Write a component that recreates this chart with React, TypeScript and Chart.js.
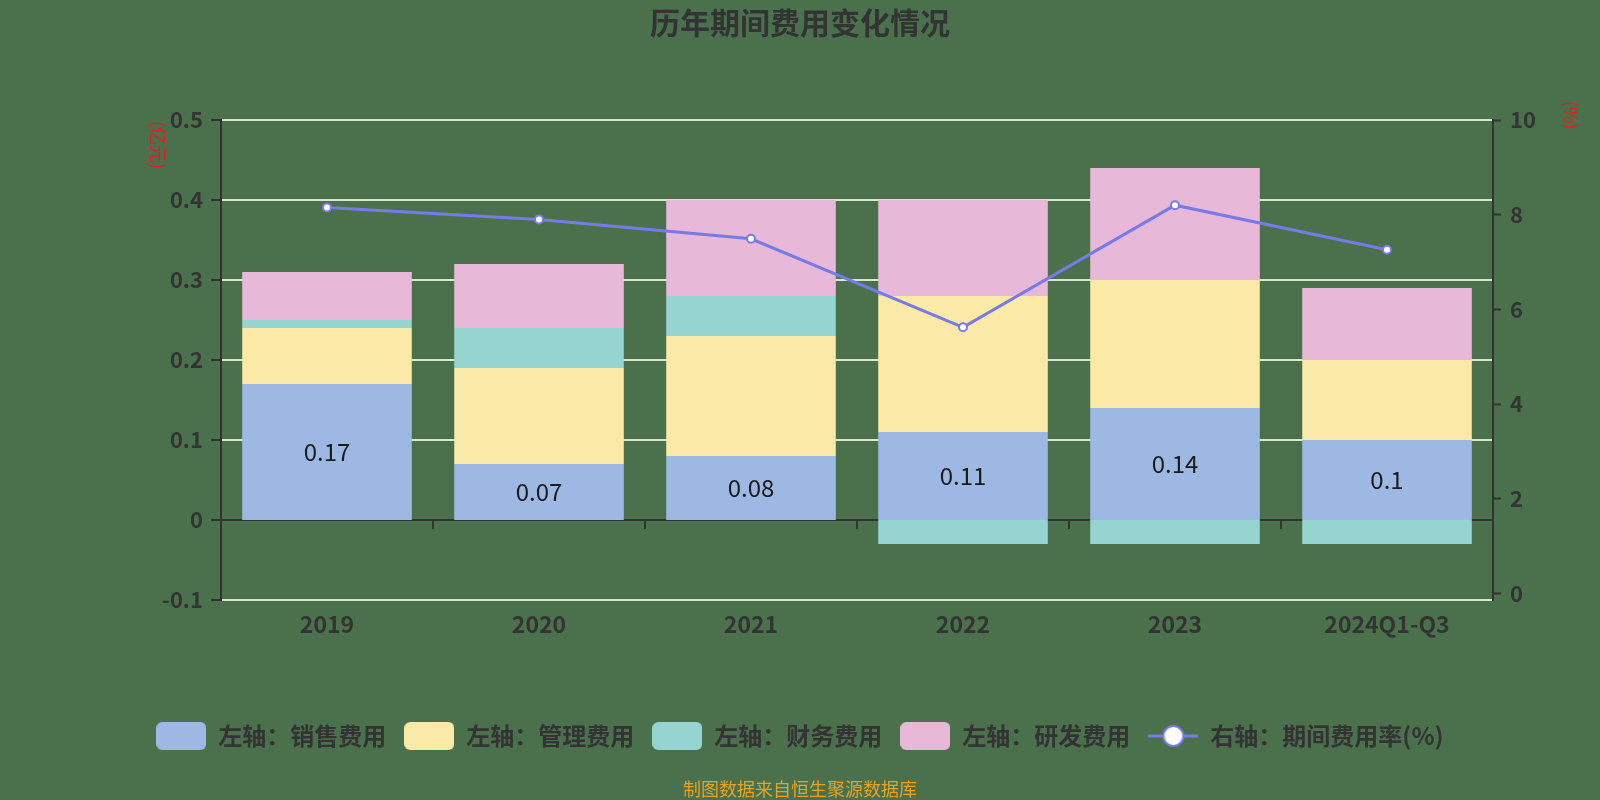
import React, { useEffect, useRef } from 'react';
import { Chart, registerables } from 'chart.js';

Chart.register(...registerables);

const chartTitle = '历年期间费用变化情况';
const footerText = '制图数据来自恒生聚源数据库';
const leftAxisName = '(亿元)';
const rightAxisName = '(%)';

const categories = ['2019', '2020', '2021', '2022', '2023', '2024Q1-Q3'];
const salesExpense = [0.17, 0.07, 0.08, 0.11, 0.14, 0.1];
const adminExpense = [0.07, 0.12, 0.15, 0.17, 0.16, 0.1];
const financeExpense = [0.01, 0.05, 0.05, -0.03, -0.03, -0.03];
const rdExpense = [0.06, 0.08, 0.12, 0.12, 0.14, 0.09];
const expenseRate = [8.15, 7.9, 7.49, 5.62, 8.2, 7.26];

const seriesNames = ['左轴：销售费用', '左轴：管理费用', '左轴：财务费用', '左轴：研发费用', '右轴：期间费用率(%)'];
const seriesColors = ['#9DB8E2', '#FBE9A8', '#96D4D2', '#E8B8D9', '#767BE8'];
const rightTickValues = [0, 2, 4, 6, 8, 10];

const BG = '#4A714C';
const FONT = '"Noto Sans CJK SC", "Noto Sans", sans-serif';

export default function App() {
  const ref = useRef<HTMLCanvasElement>(null);

  useEffect(() => {
    const canvas = ref.current;
    if (!canvas) return;

    const makeBox = (color: string) => {
      const c = document.createElement('canvas');
      c.width = 50;
      c.height = 28;
      const g = c.getContext('2d')!;
      g.fillStyle = color;
      g.beginPath();
      (g as any).roundRect(0, 0, 50, 28, 6);
      g.fill();
      return c;
    };
    const makeLineIcon = (color: string) => {
      const c = document.createElement('canvas');
      c.width = 50;
      c.height = 28;
      const g = c.getContext('2d')!;
      g.strokeStyle = color;
      g.lineWidth = 3;
      g.beginPath();
      g.moveTo(0, 14);
      g.lineTo(50, 14);
      g.stroke();
      g.beginPath();
      g.arc(25, 14, 10, 0, Math.PI * 2);
      g.fillStyle = '#ffffff';
      g.fill();
      g.lineWidth = 2;
      g.stroke();
      return c;
    };
    const icons = [
      makeBox(seriesColors[0]),
      makeBox(seriesColors[1]),
      makeBox(seriesColors[2]),
      makeBox(seriesColors[3]),
      makeLineIcon(seriesColors[4]),
    ];

    const decor = {
      id: 'decor',
      beforeDraw(chart: any) {
        const { ctx, width, height } = chart;
        ctx.save();
        ctx.fillStyle = BG;
        ctx.fillRect(0, 0, width, height);
        ctx.restore();
      },
      beforeDatasetsDraw(chart: any) {
        const { ctx, scales } = chart;
        const x = scales.x;
        const y0 = scales.y.getPixelForValue(0);
        ctx.save();
        ctx.strokeStyle = '#333333';
        ctx.lineWidth = 2;
        const n = categories.length;
        for (let i = 0; i < n - 1; i++) {
          const bx = (x.getPixelForTick(i) + x.getPixelForTick(i + 1)) / 2;
          ctx.beginPath();
          ctx.moveTo(bx, y0);
          ctx.lineTo(bx, y0 + 9);
          ctx.stroke();
        }
        ctx.restore();
      },
      afterDatasetsDraw(chart: any) {
        const { ctx } = chart;
        const meta = chart.getDatasetMeta(1);
        ctx.save();
        ctx.fillStyle = '#1a1a1a';
        ctx.font = `24px ${FONT}`;
        ctx.textAlign = 'center';
        ctx.textBaseline = 'middle';
        meta.data.forEach((el: any, i: number) => {
          const cy = (el.y + el.base) / 2;
          ctx.fillText(String(salesExpense[i]), el.x, cy);
        });
        ctx.restore();
      },
      afterDraw(chart: any) {
        const { ctx } = chart;
        ctx.save();
        ctx.fillStyle = '#333333';
        ctx.font = `bold 30px ${FONT}`;
        ctx.textAlign = 'center';
        ctx.textBaseline = 'middle';
        ctx.fillText(chartTitle, 800, 23);

        ctx.fillStyle = '#E3A428';
        ctx.font = `18px ${FONT}`;
        ctx.fillText(footerText, 800, 789);

        ctx.fillStyle = '#E02020';
        ctx.font = `18px ${FONT}`;
        ctx.translate(158, 145);
        ctx.rotate(Math.PI / 2);
        ctx.fillText(leftAxisName, 0, 0);
        ctx.restore();

        ctx.save();
        ctx.fillStyle = '#E02020';
        ctx.font = `18px ${FONT}`;
        ctx.textAlign = 'center';
        ctx.textBaseline = 'middle';
        ctx.translate(1571, 115);
        ctx.rotate(Math.PI / 2);
        ctx.fillText(rightAxisName, 0, 0);
        ctx.restore();
      },
    };

    const chart = new Chart(canvas, {
      type: 'bar',
      data: {
        labels: categories,
        datasets: [
          {
            type: 'line',
            label: seriesNames[4],
            data: expenseRate,
            yAxisID: 'y1',
            borderColor: seriesColors[4],
            backgroundColor: seriesColors[4],
            borderWidth: 3,
            pointRadius: 4,
            pointBackgroundColor: '#ffffff',
            pointBorderColor: seriesColors[4],
            pointBorderWidth: 2,
            tension: 0,
            order: -1,
          } as any,
          { label: seriesNames[0], data: salesExpense, backgroundColor: seriesColors[0], yAxisID: 'y', stack: 's' },
          { label: seriesNames[1], data: adminExpense, backgroundColor: seriesColors[1], yAxisID: 'y', stack: 's' },
          { label: seriesNames[2], data: financeExpense, backgroundColor: seriesColors[2], yAxisID: 'y', stack: 's' },
          { label: seriesNames[3], data: rdExpense, backgroundColor: seriesColors[3], yAxisID: 'y', stack: 's' },
        ],
      },
      options: {
        animation: false,
        responsive: true,
        maintainAspectRatio: false,
        layout: { padding: { top: 120, bottom: 42, left: 0, right: 0 } },
        datasets: {
          bar: { categoryPercentage: 0.8, barPercentage: 1 },
        },
        scales: {
          x: {
            stacked: true,
            grid: { display: false },
            border: { display: false },
            ticks: { color: '#333333', font: { size: 23, family: FONT, weight: 'bold' }, padding: 2 },
            afterFit: (axis: any) => {
              axis.height = 106;
            },
          },
          y: {
            position: 'left',
            stacked: true,
            min: -0.1,
            max: 0.5,
            ticks: {
              stepSize: 0.1,
              color: '#333333',
              font: { size: 22, family: FONT, weight: 'bold' },
              padding: 8,
              callback: (v: any) => {
                const n = Number(Number(v).toFixed(1));
                return n === 0 ? '0' : n.toFixed(1);
              },
            },
            grid: {
              color: (c: any) => (c.tick && Math.abs(c.tick.value) < 1e-9 ? '#333333' : '#DDE5CF'),
              lineWidth: 2,
              tickLength: 10,
              tickColor: '#333333',
              tickWidth: 2,
            },
            border: { display: true, color: '#333333', width: 2 },
            afterFit: (axis: any) => {
              axis.width = 221;
            },
          },
          y1: {
            position: 'right',
            min: -0.14,
            max: 10,
            afterBuildTicks: (axis: any) => {
              axis.ticks = rightTickValues.map((v) => ({ value: v }));
            },
            ticks: {
              color: '#333333',
              font: { size: 22, family: FONT, weight: 'bold' },
              padding: 9,
            },
            grid: {
              drawOnChartArea: false,
              tickLength: 8,
              color: '#333333',
              tickColor: '#333333',
              tickWidth: 2,
            },
            border: { display: true, color: '#333333', width: 2 },
            afterFit: (axis: any) => {
              axis.width = 107;
            },
          },
        },
        plugins: {
          title: { display: false },
          tooltip: { enabled: false },
          legend: {
            position: 'bottom',
            labels: {
              usePointStyle: true,
              pointStyleWidth: 50,
              boxHeight: 28,
              padding: 18,
              color: '#333333',
              font: { size: 24, family: FONT, weight: 'bold' },
              generateLabels: () => {
                const order = [1, 2, 3, 4, 0];
                const idx = [0, 1, 2, 3, 4];
                return idx.map((k) => ({
                  text: seriesNames[k],
                  pointStyle: icons[k] as any,
                  fillStyle: seriesColors[k],
                  strokeStyle: seriesColors[k],
                  lineWidth: 0,
                  hidden: false,
                  fontColor: '#333333',
                  datasetIndex: order[k],
                }));
              },
            },
          },
        },
      },
      plugins: [decor],
    } as any);

    return () => {
      chart.destroy();
    };
  }, []);

  return (
    <div style={{ position: 'fixed', left: 0, top: 0, width: 1600, height: 800, background: BG }}>
      <canvas ref={ref} />
    </div>
  );
}
